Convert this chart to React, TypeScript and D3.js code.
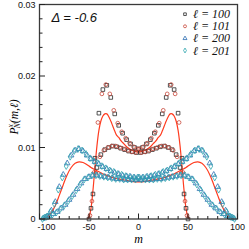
import React from "react";
import * as d3 from "d3";

// m grids (integer quantum number) and P values
const m100 = d3.range(-50, 51, 2);
const p100 = [0.0000, 0.0015, 0.0035, 0.0085, 0.0072, 0.0148, 0.0090, 0.0181, 0.0097, 0.0187, 0.0100, 0.0170, 0.0102, 0.0147, 0.0101, 0.0131, 0.0099, 0.0120, 0.0097, 0.0111, 0.0095, 0.0105, 0.0094, 0.0100, 0.0093,
  0.0098,
  0.0093, 0.0100, 0.0094, 0.0105, 0.0095, 0.0111, 0.0097, 0.0120, 0.0099, 0.0131, 0.0101, 0.0147, 0.0102, 0.0170, 0.0100, 0.0187, 0.0097, 0.0181, 0.0090, 0.0148, 0.0072, 0.0085, 0.0035, 0.0015, 0.0000];

const m101 = d3.range(-49, 50, 2);
const p101 = [0.0005, 0.0025, 0.0065, 0.0064, 0.0135, 0.0087, 0.0175, 0.0096, 0.0188, 0.0100, 0.0175, 0.0102, 0.0152, 0.0102, 0.0134, 0.0100, 0.0122, 0.0098, 0.0113, 0.0096, 0.0106, 0.0094, 0.0101, 0.0093, 0.0098,
  0.0098, 0.0093, 0.0101, 0.0094, 0.0106, 0.0096, 0.0113, 0.0098, 0.0122, 0.0100, 0.0134, 0.0102, 0.0152, 0.0102, 0.0175, 0.0100, 0.0188, 0.0096, 0.0175, 0.0087, 0.0135, 0.0064, 0.0065, 0.0025, 0.0005];

const m200 = d3.range(-96, 97, 2);
const p200 = [0.0001, 0.0002, 0.0004, 0.0004, 0.0012, 0.0007, 0.0024, 0.0010, 0.0045, 0.0015, 0.0062, 0.0020, 0.0078, 0.0027, 0.0089, 0.0034, 0.0096, 0.0042, 0.0098, 0.0050, 0.0095, 0.0056, 0.0089, 0.0059,
  0.0084, 0.0061, 0.0080, 0.0061, 0.0077, 0.0060, 0.0073, 0.0059, 0.0070, 0.0058, 0.0067, 0.0057, 0.0065, 0.0056, 0.0063, 0.0056, 0.0061, 0.0055, 0.0060, 0.0055, 0.0059, 0.0055, 0.0058, 0.0055,
  0.0058,
  0.0055, 0.0058, 0.0055, 0.0059, 0.0055, 0.0060, 0.0055, 0.0061, 0.0056, 0.0063, 0.0056, 0.0065, 0.0057, 0.0067, 0.0058, 0.0070, 0.0059, 0.0073, 0.0060, 0.0077, 0.0061, 0.0080, 0.0061, 0.0084,
  0.0059, 0.0089, 0.0056, 0.0095, 0.0050, 0.0098, 0.0042, 0.0096, 0.0034, 0.0089, 0.0027, 0.0078, 0.0020, 0.0062, 0.0015, 0.0045, 0.0010, 0.0024, 0.0007, 0.0012, 0.0004, 0.0004, 0.0002, 0.0001];

const m201 = d3.range(-97, 98, 2);
const p201 = [0.0000, 0.0002, 0.0003, 0.0004, 0.0010, 0.0006, 0.0021, 0.0009, 0.0041, 0.0014, 0.0058, 0.0019, 0.0074, 0.0025, 0.0087, 0.0032, 0.0095, 0.0040, 0.0098, 0.0048, 0.0096, 0.0055, 0.0091, 0.0058, 0.0085,
  0.0061, 0.0081, 0.0061, 0.0078, 0.0060, 0.0074, 0.0059, 0.0071, 0.0058, 0.0068, 0.0057, 0.0066, 0.0056, 0.0063, 0.0056, 0.0062, 0.0055, 0.0060, 0.0055, 0.0059, 0.0055, 0.0058, 0.0055, 0.0058,
  0.0058, 0.0055, 0.0058, 0.0055, 0.0059, 0.0055, 0.0060, 0.0055, 0.0062, 0.0056, 0.0063, 0.0056, 0.0066, 0.0057, 0.0068, 0.0058, 0.0071, 0.0059, 0.0074, 0.0060, 0.0078, 0.0061, 0.0081, 0.0061,
  0.0085, 0.0058, 0.0091, 0.0055, 0.0096, 0.0048, 0.0098, 0.0040, 0.0095, 0.0032, 0.0087, 0.0025, 0.0074, 0.0019, 0.0058, 0.0014, 0.0041, 0.0009, 0.0021, 0.0006, 0.0010, 0.0004, 0.0003, 0.0002, 0.0000];

// red theory curves
const mFit1 = d3.range(-52, 53, 2);
const pFit1 = [0.0000, 0.0003, 0.0015, 0.0040, 0.0072, 0.0102, 0.0124, 0.0137, 0.0144, 0.0147, 0.0147, 0.0143, 0.0137, 0.0130, 0.0123, 0.0117, 0.0114, 0.0110, 0.0107, 0.0104, 0.0101, 0.0099, 0.0097, 0.0096, 0.0095, 0.0094,
  0.0094,
  0.0094, 0.0095, 0.0096, 0.0097, 0.0099, 0.0101, 0.0104, 0.0107, 0.0110, 0.0114, 0.0117, 0.0123, 0.0130, 0.0137, 0.0143, 0.0147, 0.0147, 0.0144, 0.0137, 0.0124, 0.0102, 0.0072, 0.0040, 0.0015, 0.0003, 0.0000];

const mFit2 = d3.range(-96, 97, 4);
const pFit2 = [0.0000, 0.0003, 0.0009, 0.0019, 0.0033, 0.0048, 0.0062, 0.0072, 0.0078, 0.0080, 0.0079, 0.0076, 0.0072, 0.0069, 0.0066, 0.0063, 0.0061, 0.0059, 0.0057, 0.0056, 0.0055, 0.0054, 0.0053, 0.0052,
  0.0052,
  0.0052, 0.0053, 0.0054, 0.0055, 0.0056, 0.0057, 0.0059, 0.0061, 0.0063, 0.0066, 0.0069, 0.0072, 0.0076, 0.0079, 0.0080, 0.0078, 0.0072, 0.0062, 0.0048, 0.0033, 0.0019, 0.0009, 0.0003, 0.0000];

const xTicks = [-100, -50, 0, 50, 100];
const xMinor = [-90, -80, -70, -60, -40, -30, -20, -10, 10, 20, 30, 40, 60, 70, 80, 90];
const yTicks = [0, 0.01, 0.02, 0.03];
const yTickLabels = ["0", "0.01", "0.02", "0.03"];
const yMinor = [0.002, 0.004, 0.006, 0.008, 0.012, 0.014, 0.016, 0.018, 0.022, 0.024, 0.026, 0.028];

const legendLabels = ["100", "101", "200", "201"];

const series = [
  { ms: m100, ps: p100, symbol: d3.symbolSquare, color: "#2a2a2a" },
  { ms: m101, ps: p101, symbol: d3.symbolCircle, color: "#c8483a" },
  { ms: m200, ps: p200, symbol: d3.symbolTriangle, color: "#2f6fb3" },
  { ms: m201, ps: p201, symbol: d3.symbolDiamond, color: "#2ea6ae" },
];

export default function App() {
  const W = 249;
  const H = 249;
  const x = d3.scaleLinear().domain([-100, 100]).range([39.5, 237.5]);
  const y = d3.scaleLinear().domain([0, 0.03]).range([219, 4.5]);

  const fitPath = (ms: number[], ps: number[]) =>
    d3.line<number>()
      .x((_, i) => x(ms[i]))
      .y((d) => y(d))
      .curve(d3.curveCatmullRom.alpha(0.5))(ps) || "";

  const sym = (s: d3.SymbolType, size: number) => d3.symbol().type(s).size(size)() || "";

  const [x0, x1] = x.range();
  const [y0, y1] = y.range();

  return (
    <svg width={W} height={H} style={{ position: "absolute", left: 0, top: 0, background: "#fff" }}
      fontFamily="'Liberation Sans', Arial, sans-serif">
      <defs>
        <clipPath id="plotClip">
          <rect x={x0} y={y1} width={x1 - x0} height={y0 - y1 + 2} />
        </clipPath>
      </defs>

      {/* theory lines */}
      <g clipPath="url(#plotClip)" fill="none" stroke="#ff3b1f" strokeWidth={1.2}>
        <path d={fitPath(mFit1, pFit1)} />
        <path d={fitPath(mFit2, pFit2)} />
      </g>

      {/* markers */}
      {series.map((s, si) => (
        <g key={si} fill="none" stroke={s.color} strokeWidth={0.8}>
          {s.ps.map((p, i) => (
            <path key={i} d={sym(s.symbol, s.symbol === d3.symbolCircle ? 11 : 13)}
              transform={`translate(${x(s.ms[i])},${y(p)})`} />
          ))}
        </g>
      ))}

      {/* frame */}
      <rect x={x0} y={y1} width={x1 - x0} height={y0 - y1} fill="none" stroke="#3a3a3a" strokeWidth={1.3} />

      {/* ticks */}
      <g stroke="#222" strokeWidth={1}>
        {xTicks.map((t) => <line key={t} x1={x(t)} x2={x(t)} y1={y0} y2={y0 - 5.5} />)}
        {xMinor.map((t) => <line key={t} x1={x(t)} x2={x(t)} y1={y0} y2={y0 - 3} />)}
        {yTicks.map((t) => <line key={t} x1={x0} x2={x0 + 5.5} y1={y(t)} y2={y(t)} />)}
        {yMinor.map((t) => <line key={t} x1={x0} x2={x0 + 3} y1={y(t)} y2={y(t)} />)}
      </g>
      <g fontSize={9} fill="#111">
        {xTicks.map((t, i) => (
          <text key={t} x={i === 0 ? x(t) - 2 : x(t)} y={y0 + 11} textAnchor={i === 0 ? "start" : "middle"}>{t}</text>
        ))}
        {yTicks.map((t, i) => (
          <text key={t} x={x0 - 4} y={y(t) + 3.2} textAnchor="end">{yTickLabels[i]}</text>
        ))}
      </g>

      {/* axis titles */}
      <text x={x(0)} y={243} textAnchor="middle" fontFamily="'Liberation Serif', serif" fontStyle="italic" fontSize={12}>m</text>
      <text transform="translate(17.5,117) rotate(-90)" textAnchor="middle" fontFamily="'Liberation Serif', 'DejaVu Serif', serif" fontStyle="italic" fontSize={11.5}>
        <tspan>P</tspan>
        <tspan fontSize={7.5} dy={-5}>x</tspan>
        <tspan fontSize={7.5} dx={-4} dy={7.5}>N</tspan>
        <tspan dy={-2.5}>(m,ℓ)</tspan>
      </text>

      {/* annotation */}
      <text x={51.5} y={21.5} fontStyle="italic" fontSize={13} fill="#111">Δ = -0.6</text>

      {/* legend */}
      {series.map((s, i) => (
        <g key={i} transform={`translate(0,${14.2 + i * 12.1})`}>
          <path d={sym(s.symbol, 7)} transform="translate(185,0)" fill="none" stroke={s.color} strokeWidth={0.8} />
          <text x={193} y={4} fontFamily="'Liberation Serif', 'DejaVu Serif', serif" fontStyle="italic" fontSize={12} fill="#111">
            ℓ = {legendLabels[i]}
          </text>
        </g>
      ))}
    </svg>
  );
}
